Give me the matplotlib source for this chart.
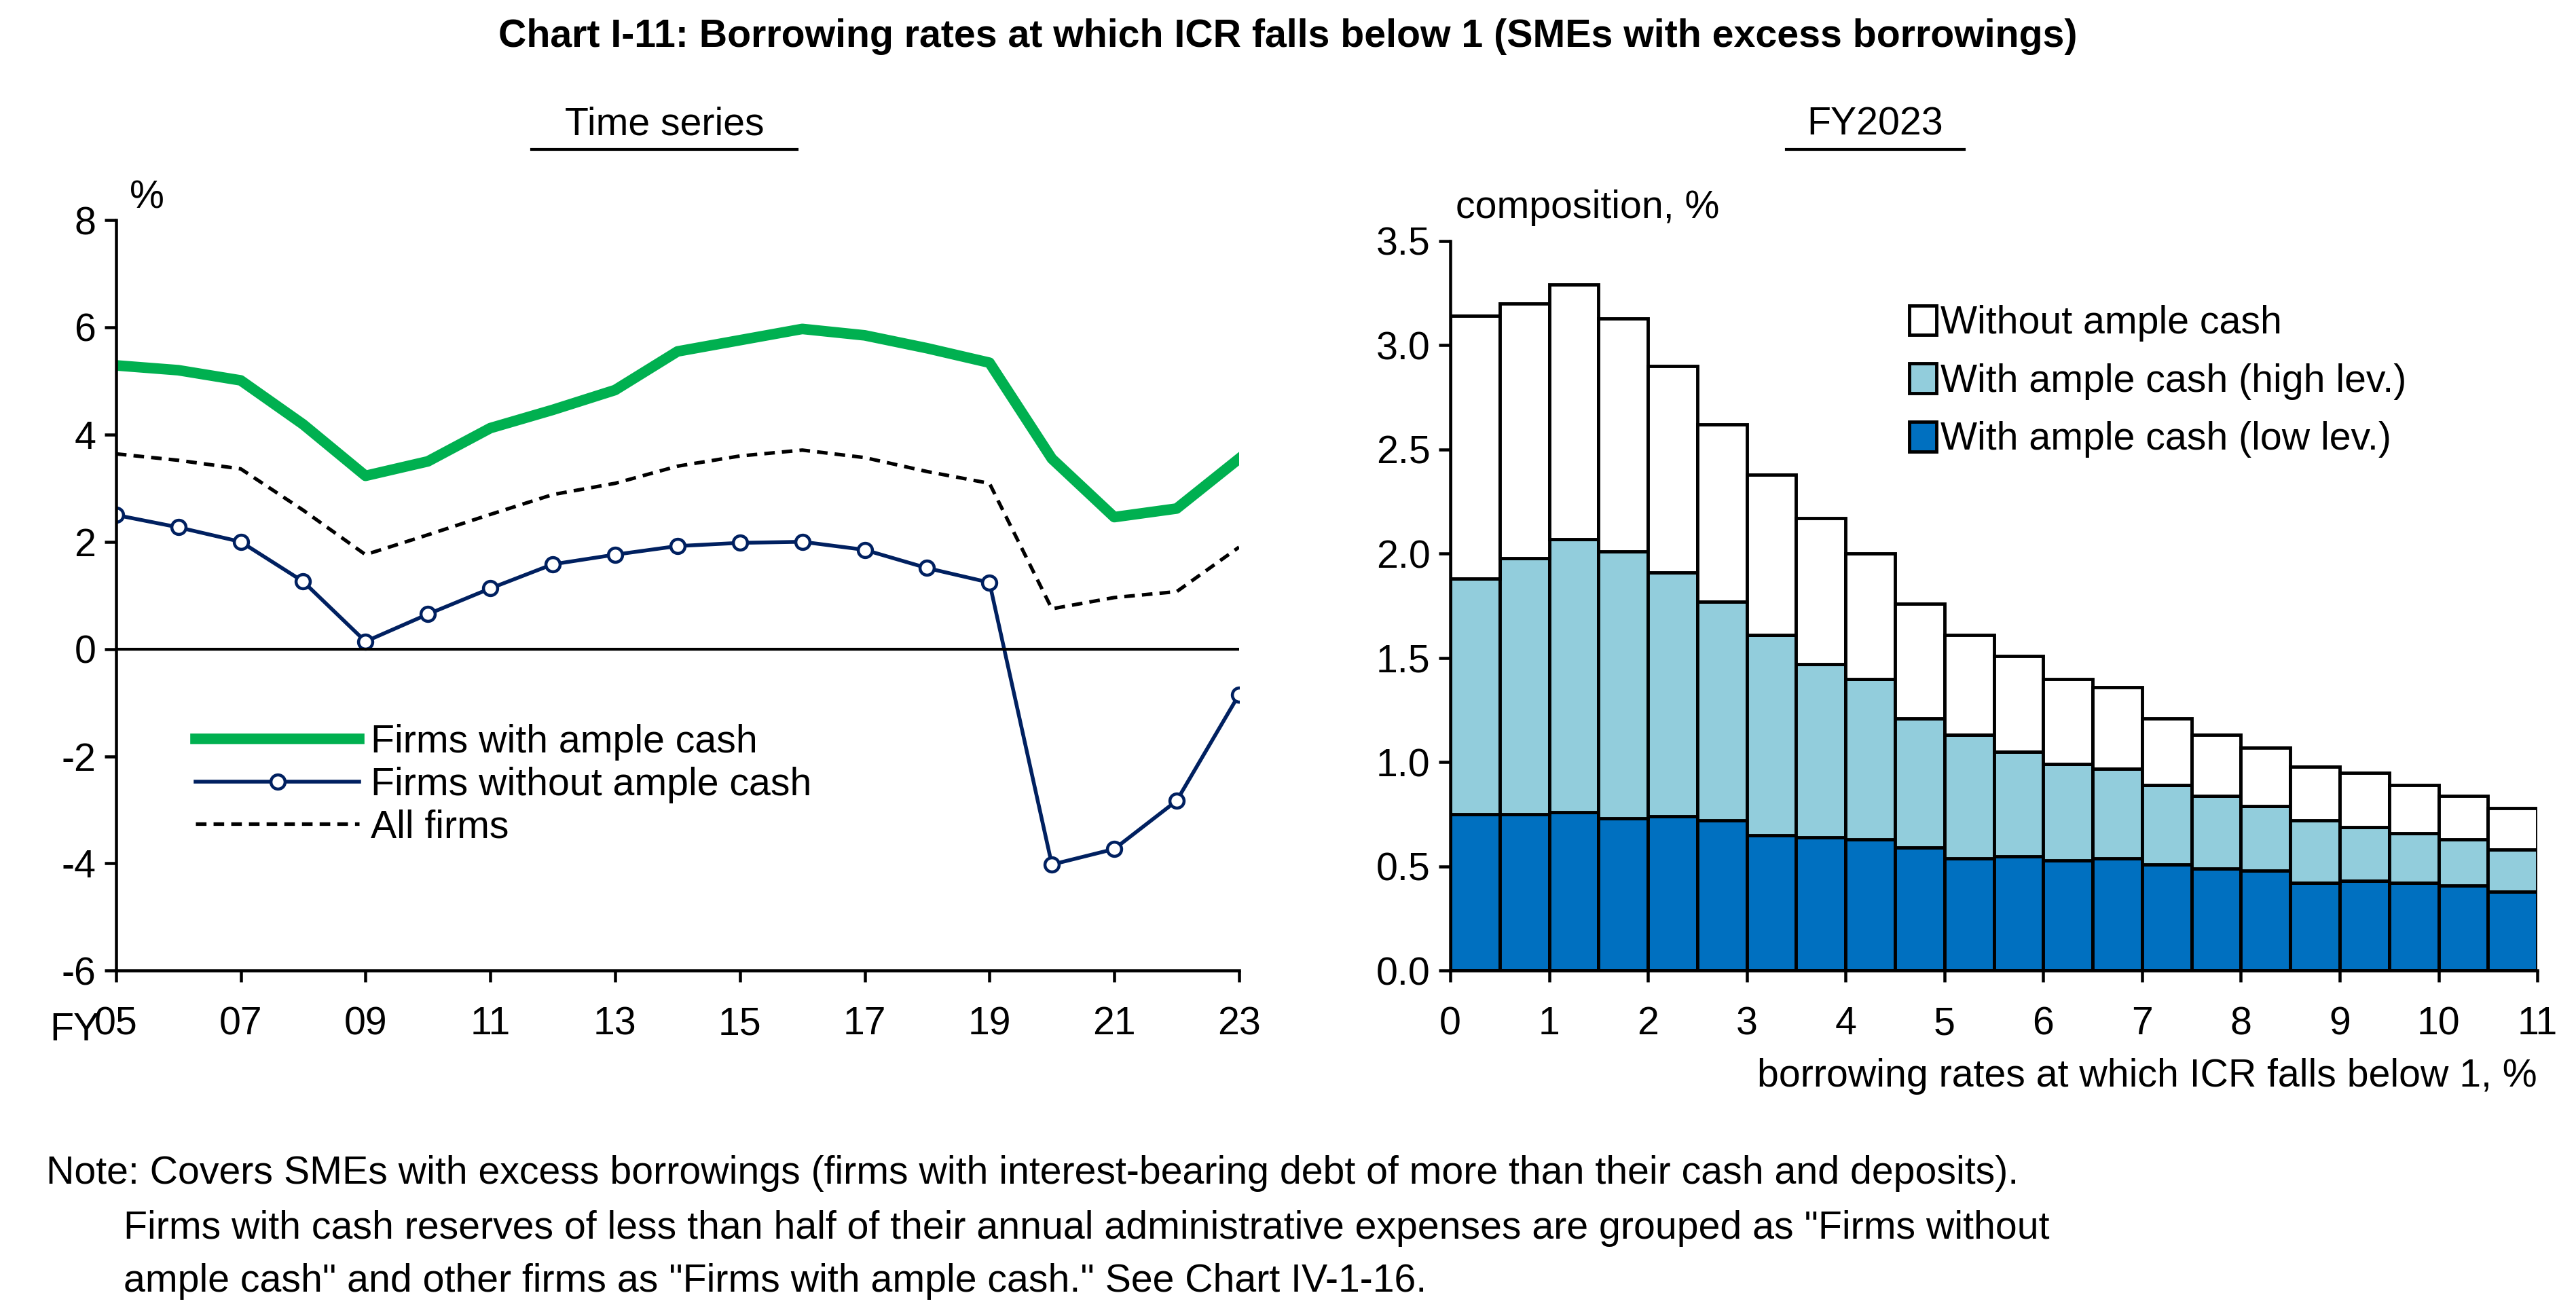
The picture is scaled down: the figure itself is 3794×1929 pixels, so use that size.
import matplotlib.pyplot as plt
import matplotlib
import numpy as np

matplotlib.rcParams['font.family'] = ['Liberation Sans', 'DejaVu Sans']
matplotlib.rcParams['axes.unicode_minus'] = False
FS = 16.5

# 左: 時系列
years = list(range(2005, 2024))
ample = [5.29, 5.20, 5.01, 4.19, 3.23, 3.50, 4.12, 4.46, 4.83, 5.55, 5.76, 5.97, 5.85, 5.61, 5.34, 3.55, 2.46, 2.62, 3.55]
without = [2.50, 2.27, 2.00, 1.26, 0.14, 0.65, 1.13, 1.58, 1.76, 1.92, 1.98, 2.00, 1.85, 1.51, 1.24, -4.02, -3.73, -2.83, -0.85]
all_firms = [3.64, 3.52, 3.36, 2.59, 1.76, 2.13, 2.51, 2.88, 3.09, 3.41, 3.60, 3.71, 3.57, 3.31, 3.09, 0.75, 0.96, 1.07, 1.90]
year_ticks = [2005, 2007, 2009, 2011, 2013, 2015, 2017, 2019, 2021, 2023]
year_labels = ['05', '07', '09', '11', '13', '15', '17', '19', '21', '23']

# 右: FY2023 構成
rate_bins = np.arange(0, 11, 0.5)
low_lev = [0.75, 0.75, 0.76, 0.73, 0.74, 0.72, 0.65, 0.64, 0.63, 0.59, 0.54, 0.55, 0.53, 0.54, 0.51, 0.49, 0.48, 0.42, 0.43, 0.42, 0.41, 0.38]
mid_tot = [1.88, 1.98, 2.07, 2.01, 1.91, 1.77, 1.61, 1.47, 1.40, 1.21, 1.13, 1.05, 0.99, 0.97, 0.89, 0.84, 0.79, 0.72, 0.69, 0.66, 0.63, 0.58]
total = [3.14, 3.20, 3.29, 3.13, 2.90, 2.62, 2.38, 2.17, 2.00, 1.76, 1.61, 1.51, 1.40, 1.36, 1.21, 1.13, 1.07, 0.98, 0.95, 0.89, 0.84, 0.78]
high_lev = [m - l for m, l in zip(mid_tot, low_lev)]
without_cash = [t - m for t, m in zip(total, mid_tot)]

fig = plt.figure(figsize=(15.176, 7.716), dpi=250)

fig.text(0.5, 0.972, 'Chart I-11: Borrowing rates at which ICR falls below 1 (SMEs with excess borrowings)',
         ha='center', va='center', fontsize=16.5, fontweight='bold')
fig.text(0.258, 0.905, 'Time series', ha='center', va='center', fontsize=FS)
fig.text(0.728, 0.905, 'FY2023', ha='center', va='center', fontsize=FS)
for xc, w in [(0.258, 0.103), (0.728, 0.069)]:
    fig.lines.append(matplotlib.lines.Line2D([xc - w / 2, xc + w / 2], [0.886, 0.886], color='black', lw=1.2,
                                             transform=fig.transFigure))

# 左グラフ
ax1 = fig.add_axes([0.045, 0.259, 0.436, 0.573])
ax1.plot(years, ample, color='#00B050', lw=4.5, label='Firms with ample cash')
ax1.plot(years, without, color='#002060', lw=1.6, marker='o', markersize=6,
         markerfacecolor='white', markeredgecolor='#002060', markeredgewidth=1.3, label='Firms without ample cash')
ax1.plot(years, all_firms, color='black', lw=1.5, ls=(0, (3, 2)), label='All firms')
ax1.axhline(0, color='black', lw=1.2)
ax1.set_xlim(2005, 2023)
ax1.set_ylim(-6, 8)
ax1.set_yticks(range(-6, 9, 2))
ax1.set_xticks(year_ticks)
ax1.set_xticklabels(year_labels)
ax1.spines['top'].set_visible(False)
ax1.spines['right'].set_visible(False)
ax1.spines['left'].set_linewidth(1.3)
ax1.spines['bottom'].set_linewidth(1.3)
ax1.tick_params(labelsize=FS, length=5, width=1.3)
ax1.tick_params(axis='x', pad=10)
ax1.text(0.012, 1.005, '%', transform=ax1.transAxes, fontsize=FS, va='bottom')
ax1.text(-0.015, -0.055, 'FY', transform=ax1.transAxes, fontsize=FS, ha='right', va='top')
ax1.legend(loc='lower left', bbox_to_anchor=(0.04, 0.12), frameon=False, fontsize=FS,
           handlelength=4.2, handletextpad=0.3, labelspacing=0.15)

# 右グラフ
ax2 = fig.add_axes([0.563, 0.259, 0.422, 0.557])
ax2.bar(rate_bins, low_lev, width=0.5, align='edge', color='#0070C0', edgecolor='black', lw=1.4,
        label='With ample cash (low lev.)')
ax2.bar(rate_bins, high_lev, width=0.5, align='edge', bottom=low_lev, color='#92CDDC', edgecolor='black', lw=1.4,
        label='With ample cash (high lev.)')
ax2.bar(rate_bins, without_cash, width=0.5, align='edge', bottom=mid_tot, color='white', edgecolor='black', lw=1.4,
        label='Without ample cash')
ax2.set_xlim(0, 11)
ax2.set_ylim(0, 3.5)
ax2.set_xticks(range(0, 12))
ax2.set_yticks(np.arange(0, 3.6, 0.5))
ax2.yaxis.set_major_formatter(matplotlib.ticker.FormatStrFormatter('%.1f'))
ax2.spines['top'].set_visible(False)
ax2.spines['right'].set_visible(False)
ax2.spines['left'].set_linewidth(1.3)
ax2.spines['bottom'].set_linewidth(1.3)
ax2.tick_params(labelsize=FS, length=5, width=1.3)
ax2.tick_params(axis='x', pad=10)
ax2.text(0.005, 1.02, 'composition, %', transform=ax2.transAxes, fontsize=FS, va='bottom')
ax2.text(1.0, -0.12, 'borrowing rates at which ICR falls below 1, %', transform=ax2.transAxes,
         fontsize=FS, ha='right', va='top')
h, l = ax2.get_legend_handles_labels()
ax2.legend(h[::-1], l[::-1], loc='upper left', bbox_to_anchor=(0.39, 0.96), frameon=False, fontsize=FS,
           handlelength=0.7, handleheight=0.8, handletextpad=0.1, labelspacing=0.55)

fig.text(0.018, 0.104, 'Note: Covers SMEs with excess borrowings (firms with interest-bearing debt of more than their cash and deposits).',
         fontsize=FS, va='center')
fig.text(0.048, 0.062, 'Firms with cash reserves of less than half of their annual administrative expenses are grouped as "Firms without',
         fontsize=FS, va='center')
fig.text(0.048, 0.022, 'ample cash" and other firms as "Firms with ample cash." See Chart IV-1-16.',
         fontsize=FS, va='center')

plt.savefig('out.png', dpi=250)
plt.close()
